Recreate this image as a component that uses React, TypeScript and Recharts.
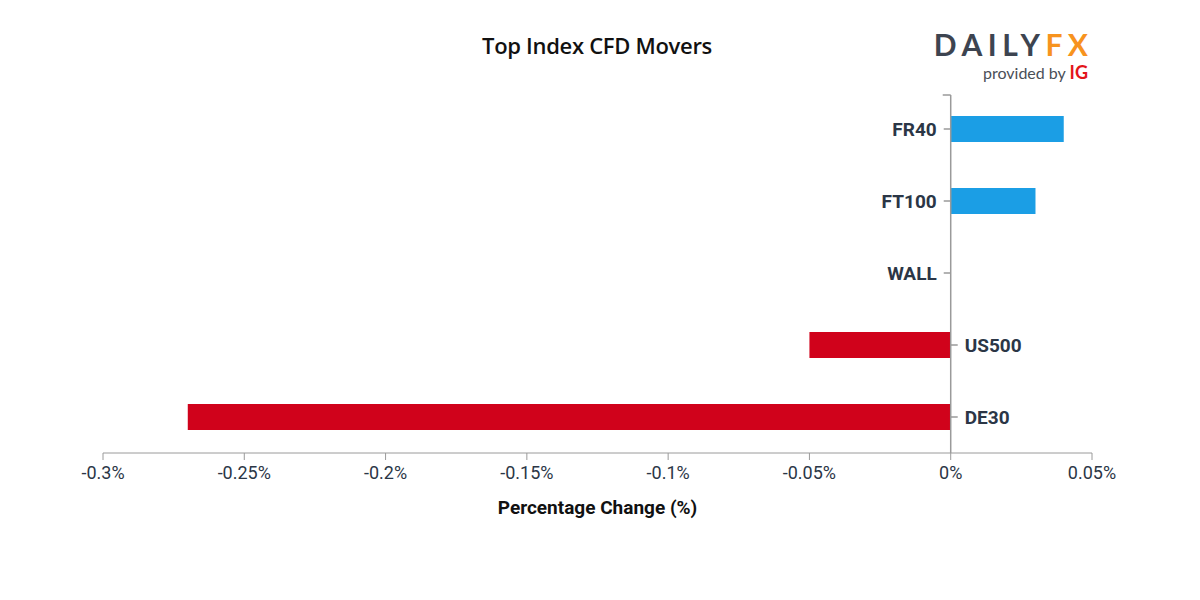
import React from "react";
import { Bar, BarChart, Cell, ReferenceLine, XAxis, YAxis } from "recharts";

const categories = ["FR40", "FT100", "WALL", "US500", "DE30"];
const changes = [0.04, 0.03, 0, -0.05, -0.27];
const xTicks = [-0.3, -0.25, -0.2, -0.15, -0.1, -0.05, 0, 0.05];
const xDomain = [-0.3, 0.05];

const UP_COLOR = "#1b9ee5";
const DOWN_COLOR = "#d0021b";
const AXIS_COLOR = "#9a9a9a";
const TEXT_COLOR = "#2b3646";

const CHART_W = 1200;
const Y_AXIS_W = 1;
const MARGIN = { top: 93, right: 108, left: 102, bottom: 87 };

const data = categories.map((name, i) => ({ name, value: changes[i] }));

function formatPct(v: number) {
  return `${Math.round(v * 100) / 100}%`;
}

// x position of the zero line inside the plot
const plotLeft = MARGIN.left + Y_AXIS_W;
const zeroX =
  plotLeft +
  ((CHART_W - plotLeft - MARGIN.right) * (0 - xDomain[0])) /
    (xDomain[1] - xDomain[0]);

// category labels sit on the zero line: left of it for gains, right for losses
function CategoryTick(props: any) {
  const { y, payload } = props;
  const idx = categories.indexOf(payload.value);
  const left = changes[idx] >= 0;
  return (
    <g>
      <line
        x1={zeroX}
        x2={left ? zeroX - 7 : zeroX + 7}
        y1={y}
        y2={y}
        stroke={AXIS_COLOR}
        strokeWidth={1.5}
      />
      <text
        x={left ? zeroX - 14 : zeroX + 14}
        y={y}
        dy="0.35em"
        textAnchor={left ? "end" : "start"}
        fontFamily="Roboto, sans-serif"
        fontWeight={700}
        fontSize={19}
        fill={TEXT_COLOR}
      >
        {payload.value}
      </text>
    </g>
  );
}

function ZeroAxis(props: any) {
  const { x1, y1, y2 } = props;
  const top = Math.min(y1, y2);
  const bottom = Math.max(y1, y2);
  return (
    <g>
      <line x1={x1} x2={x1} y1={top + 2} y2={bottom} stroke={AXIS_COLOR} strokeWidth={1.5} />
      <line x1={x1 - 8} x2={x1} y1={top + 2} y2={top + 2} stroke={AXIS_COLOR} strokeWidth={1.5} />
    </g>
  );
}

export default function App() {
  return (
    <div
      style={{
        position: "absolute",
        left: 0,
        top: 0,
        width: 1200,
        height: 600,
        background: "#fff",
      }}
    >
      <div
        style={{
          position: "absolute",
          left: 0,
          width: 1194,
          top: 30,
          textAlign: "center",
          fontFamily: "'Open Sans', sans-serif",
          fontWeight: 600,
          fontSize: 22,
          color: "#111",
          letterSpacing: -0.3,
        }}
      >
        Top Index CFD Movers
      </div>
      <div
        style={{
          position: "absolute",
          right: 112,
          top: 26,
          textAlign: "right",
          fontFamily: "Lato, sans-serif",
        }}
      >
        <div
          style={{
            fontSize: 30,
            fontWeight: 700,
            letterSpacing: 5.5,
            lineHeight: "36px",
            marginRight: -5.5,
            color: "#3d4450",
          }}
        >
          DAILY<span style={{ color: "#f7931e" }}>FX</span>
        </div>
        <div style={{ fontSize: 16, color: "#4a4f57", lineHeight: "20px" }}>
          provided by{" "}
          <span style={{ color: "#e3151a", fontWeight: 700, fontSize: 18 }}>IG</span>
        </div>
      </div>
      <div style={{ position: "absolute", left: 0, top: 0 }}>
        <BarChart
          width={CHART_W}
          height={600}
          data={data}
          layout="vertical"
          margin={MARGIN}
        >
          <XAxis
            type="number"
            dataKey="value"
            domain={xDomain}
            ticks={xTicks}
            interval={0}
            tickFormatter={formatPct}
            height={60}
            stroke={AXIS_COLOR}
            tickSize={7}
            tickMargin={6}
            tick={{
              fill: TEXT_COLOR,
              fontSize: 18,
              fontFamily: "Roboto, sans-serif",
            }}
            label={{
              value: "Percentage Change (%)",
              position: "insideBottom",
              offset: -1,
              fill: "#111",
              fontSize: 19,
              fontWeight: 700,
              fontFamily: "Roboto, sans-serif",
            }}
          />
          <YAxis
            type="category"
            dataKey="name"
            width={Y_AXIS_W}
            axisLine={false}
            tickLine={false}
            interval={0}
            tick={<CategoryTick />}
          />
          <ReferenceLine x={0} stroke={AXIS_COLOR} shape={<ZeroAxis />} />
          <Bar dataKey="value" barSize={26} isAnimationActive={false}>
            {data.map((d) => (
              <Cell key={d.name} fill={d.value >= 0 ? UP_COLOR : DOWN_COLOR} />
            ))}
          </Bar>
        </BarChart>
      </div>
    </div>
  );
}
